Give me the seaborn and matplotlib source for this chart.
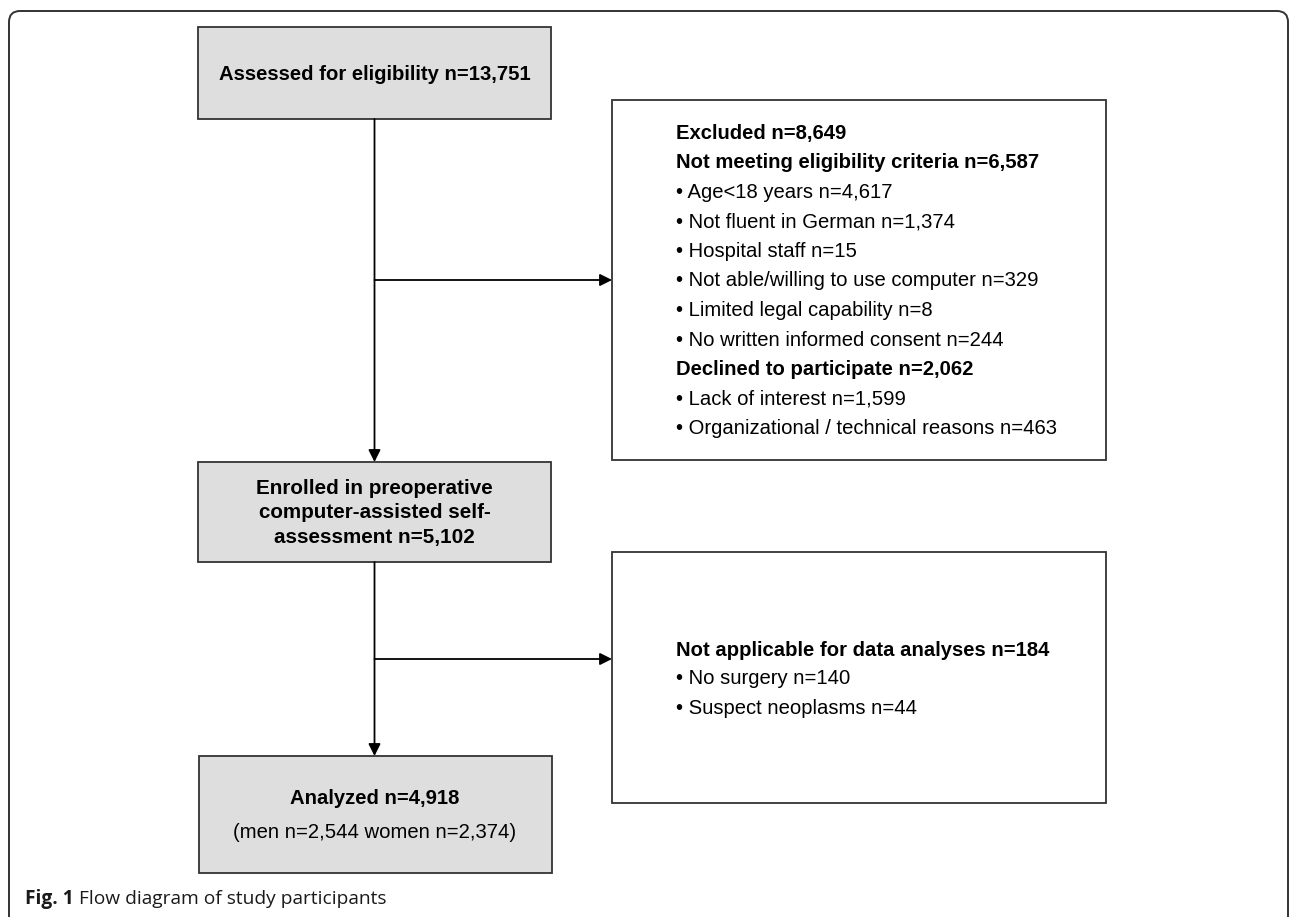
import matplotlib
matplotlib.use("Agg")
import matplotlib.pyplot as plt
from matplotlib.patches import Rectangle, FancyBboxPatch
import seaborn as sns

# Zahlen aus dem Flussdiagramm
assessed_n = "13,751"
excluded_n = "8,649"
not_meeting_n = "6,587"
not_meeting_labels = ["Age<18 years", "Not fluent in German", "Hospital staff",
                      "Not able/willing to use computer", "Limited legal capability",
                      "No written informed consent"]
not_meeting_counts = ["4,617", "1,374", "15", "329", "8", "244"]
declined_n = "2,062"
declined_labels = ["Lack of interest", "Organizational / technical reasons"]
declined_counts = ["1,599", "463"]
enrolled_n = "5,102"
not_applicable_n = "184"
not_applicable_labels = ["No surgery", "Suspect neoplasms"]
not_applicable_counts = ["140", "44"]
analyzed_n = "4,918"
men_n = "2,544"
women_n = "2,374"

sns.set_style("white")
plt.rcParams['font.family'] = ['Liberation Sans', 'DejaVu Sans']
plt.rcParams['text.color'] = 'black'

fig = plt.figure(figsize=(12.9, 9.17), dpi=100)
ax = fig.add_axes([0, 0, 1, 1])
ax.set_xlim(0, 1290)
ax.set_ylim(917, 0)
ax.axis("off")

edge = "#333333"
grey = "#dedede"
fs = 14.6

# aeusserer Rahmen
frame = FancyBboxPatch((9, 11), 1290 - 9 - 2, 930, boxstyle="round,pad=0,rounding_size=11",
                       fc="white", ec=edge, lw=1.4)
ax.add_patch(frame)


def box(x0, y0, x1, y1, fill):
    ax.add_patch(Rectangle((x0, y0), x1 - x0, y1 - y0, fc=fill, ec=edge, lw=1.3))


def arrow(x0, y0, x1, y1):
    ax.annotate("", xy=(x1, y1), xytext=(x0, y0),
                arrowprops=dict(arrowstyle="-|>", color="black", lw=1.3,
                                mutation_scale=18, shrinkA=0, shrinkB=0))


# Kaesten
box(198, 27, 551, 119, grey)
box(612, 100, 1106, 460, "white")
box(198, 462, 551, 562, grey)
box(612, 552, 1106, 803, "white")
box(199, 756, 552, 873, grey)

# Pfeile
arrow(374.5, 119, 374.5, 462)
arrow(374.5, 562, 374.5, 756)
arrow(374.5, 280, 612, 280)
arrow(374.5, 659, 612, 659)

# Texte in den grauen Kaesten
ax.text(374.5, 75, f"Assessed for eligibility n={assessed_n}", ha="center", va="center",
        fontsize=fs, fontweight="bold")
enrolled_lines = ["Enrolled in preoperative", "computer-assisted self-",
                  f"assessment n={enrolled_n}"]
for i, line in enumerate(enrolled_lines):
    ax.text(374.5, 488 + 25 * i, line, ha="center", va="center", fontsize=14.9, fontweight="bold")
ax.text(375, 798, f"Analyzed n={analyzed_n}", ha="center", va="center",
        fontsize=fs, fontweight="bold")
ax.text(375, 833, f"(men n={men_n} women n={women_n})", ha="center", va="center", fontsize=fs)

# Ausschluss-Kasten
lines = [(f"Excluded n={excluded_n}", True),
         (f"Not meeting eligibility criteria n={not_meeting_n}", True)]
lines += [(f"\u2022 {l} n={c}", False) for l, c in zip(not_meeting_labels, not_meeting_counts)]
lines += [(f"Declined to participate n={declined_n}", True)]
lines += [(f"\u2022 {l} n={c}", False) for l, c in zip(declined_labels, declined_counts)]
for i, (txt, bold) in enumerate(lines):
    ax.text(676, 133 + 29.6 * i, txt, ha="left", va="center", fontsize=fs,
            fontweight="bold" if bold else "normal")

# Nicht auswertbar
na_lines = [(f"Not applicable for data analyses n={not_applicable_n}", True)]
na_lines += [(f"\u2022 {l} n={c}", False) for l, c in zip(not_applicable_labels, not_applicable_counts)]
for i, (txt, bold) in enumerate(na_lines):
    ax.text(676, 650 + 29 * i, txt, ha="left", va="center", fontsize=fs,
            fontweight="bold" if bold else "normal")

# Bildunterschrift
t = ax.text(25, 899, "Fig. 1", ha="left", va="center", fontsize=13.8, fontweight="bold",
            family=["Open Sans", "DejaVu Sans"], color="#1a1a1a")
fig.canvas.draw()
bb = t.get_window_extent().transformed(ax.transData.inverted())
ax.text(bb.x1 + 5, 899, "Flow diagram of study participants", ha="left", va="center",
        fontsize=13.8, family=["Open Sans", "DejaVu Sans"], color="#1a1a1a")

fig.savefig("out.png", dpi=100)
